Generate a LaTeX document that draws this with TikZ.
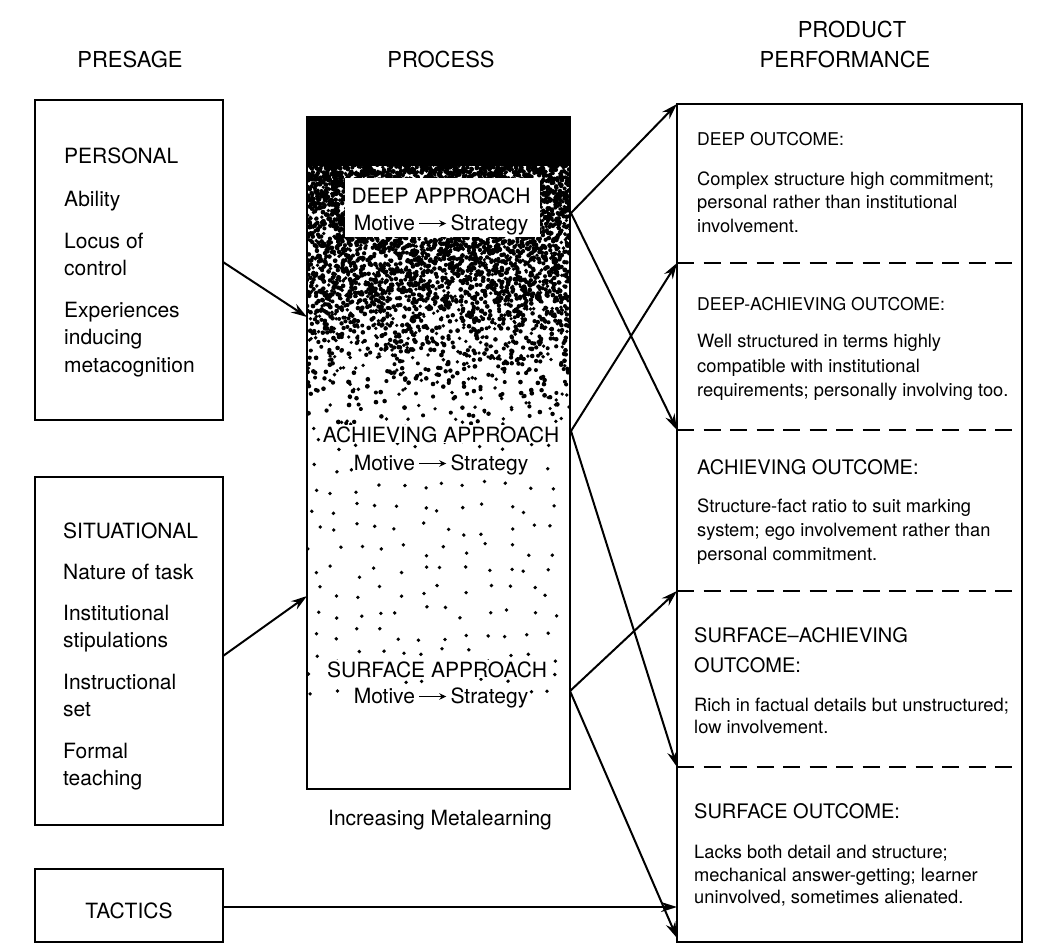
\documentclass[tikz,border=0pt]{standalone}
\usepackage{fontspec}
\setmainfont{TeX Gyre Heros}
\usetikzlibrary{arrows.meta}

% short bold arrow used in the approach labels
\newcommand{\motivearrow}{\,\tikz[baseline={(0pt,0pt)}]\draw[line width=1.6pt,-{Stealth[length=7pt,width=6.5pt]}] (0pt,6.5pt) -- (27pt,6.5pt);\,}

\begin{document}
\begin{tikzpicture}[x=1pt,y=-1pt,
  frame/.style={draw=black, line width=2.8pt, inner sep=0pt, outer sep=0pt, anchor=north west},
  conn/.style={line width=2pt, -{Stealth[length=16pt,width=10pt]}},
  divider/.style={line width=2.8pt, dash pattern=on 17pt off 9.5pt},
  head/.style={font=\fontsize{22}{26}\selectfont, anchor=base, inner sep=0pt},
  lt/.style={font=\fontsize{21}{25}\selectfont, anchor=base west, inner sep=0pt},
  ct/.style={font=\fontsize{21}{25}\selectfont, anchor=base, inner sep=0pt},
  ctw/.style={ct, fill=white, inner sep=1pt},
  rh/.style={font=\fontsize{17.6}{21}\selectfont, anchor=base west, inner sep=0pt},
  rH/.style={font=\fontsize{20}{24}\selectfont, anchor=base west, inner sep=0pt},
  rb/.style={font=\fontsize{18.3}{22}\selectfont, anchor=base west, inner sep=0pt},
]
\useasboundingbox (0,0) rectangle (1040,951);

% column headings
\node[head] (hpres) at (130,67) {PRESAGE};
\node[head] (hproc) at (441,67) {PROCESS};
\node[head] (hprod1) at (852,37) {PRODUCT};
\node[head] (hprod2) at (845,67) {PERFORMANCE};

% stippled process column: solid black top fading into scattered dots
\begin{scope}
  \clip (307,117) rectangle (570,789);
  \pgfmathsetseed{4711}
  \fill (307,117) rectangle (570,166);
  \foreach \yb/\n in {165/396,175/370,185/347,195/326,205/307,215/290,
                      225/274,235/259,245/245,255/232,265/214,275/197,
                      285/181,295/167,305/145,315/125,325/107,335/90,
                      345/75,355/60,365/49,375/39,385/32,395/24,
                      405/20,415/15} {
    \foreach \k in {1,...,\n} {
      \pgfmathsetmacro{\dx}{307+263*rnd}
      \pgfmathsetmacro{\dy}{\yb+10*rnd}
      \pgfmathsetmacro{\dr}{1.8+0.6*rnd}
      \fill (\dx,\dy) circle[radius=\dr pt];
    }
  }
  % evenly scattered dots of the lower half
  \foreach \gy in {0,...,13} {
    \foreach \gx in {0,...,11} {
      \pgfmathsetmacro{\dx}{314+21.5*\gx+13*(rnd-0.5)}
      \pgfmathsetmacro{\dy}{424+21*\gy+13*(rnd-0.5)}
      \fill (\dx,\dy) circle[radius=1.9pt];
    }
  }
  \fill[white] (345,178) rectangle (540,237);
\end{scope}

% boxes
\node[frame, minimum width=188pt, minimum height=320pt] (personal) at (35,100) {};
\node[frame, minimum width=188pt, minimum height=348pt] (situational) at (35,477) {};
\node[frame, minimum width=188pt, minimum height=73pt] (tactics) at (35,869) {};
\node[frame, minimum width=263pt, minimum height=672pt] (process) at (307,117) {};
\node[frame, minimum width=345pt, minimum height=838pt] (product) at (677,104) {};

% outcome dividers
\draw[divider] (677,263) -- (1022,263);
\draw[divider] (677,430) -- (1022,430);
\draw[divider] (677,591) -- (1022,591);
\draw[divider] (677,767) -- (1022,767);

% presage texts
\node[lt] (p1) at (64,163) {PERSONAL};
\node[lt] (p2) at (64,206) {Ability};
\node[lt] (p3) at (64,248) {Locus of};
\node[lt] (p4) at (64,275) {control};
\node[lt] (p5) at (64,317) {Experiences};
\node[lt] (p6) at (64,344) {inducing};
\node[lt] (p7) at (64,372) {metacognition};

\node[lt] (s1) at (63,538) {SITUATIONAL};
\node[lt] (s2) at (63,579) {Nature of task};
\node[lt] (s3) at (63,620) {Institutional};
\node[lt] (s4) at (63,647) {stipulations};
\node[lt] (s5) at (63,689) {Instructional};
\node[lt] (s6) at (63,716) {set};
\node[lt] (s7) at (63,758) {Formal};
\node[lt] (s8) at (63,785) {teaching};

\node[head, font=\fontsize{21}{25}\selectfont] (t1) at (129,918) {TACTICS};

% process texts
\node[ct] (d1) at (441,203) {DEEP APPROACH};
\node[ct] (d2) at (441,230) {Motive\motivearrow Strategy};
\node[ctw] (a1) at (441,442) {ACHIEVING APPROACH};
\node[ctw] (a2) at (441,470) {Motive\motivearrow Strategy};
\node[ctw] (f1) at (437,677) {SURFACE APPROACH};
\node[ctw] (f2) at (441,703) {Motive\motivearrow Strategy};
\node[ct] (meta) at (440,825) {Increasing Metalearning};

% product texts
\node[rh] (o1) at (697,145) {DEEP OUTCOME:};
\node[rb] (o1a) at (697,185) {Complex structure high commitment;};
\node[rb] (o1b) at (697,208) {personal rather than institutional};
\node[rb] (o1c) at (697,232) {involvement.};

\node[rh] (o2) at (697,310) {DEEP-ACHIEVING OUTCOME:};
\node[rb] (o2a) at (697,347) {Well structured in terms highly};
\node[rb] (o2b) at (697,372) {compatible with institutional};
\node[rb] (o2c) at (697,396) {requirements; personally involving too.};

\node[rH] (o3) at (697,474) {ACHIEVING OUTCOME:};
\node[rb] (o3a) at (697,512) {Structure-fact ratio to suit marking};
\node[rb] (o3b) at (697,536) {system; ego involvement rather than};
\node[rb] (o3c) at (697,560) {personal commitment.};

\node[rH] (o4) at (694,642) {SURFACE--ACHIEVING};
\node[rH] (o4x) at (694,672) {OUTCOME:};
\node[rb] (o4a) at (694,711) {Rich in factual details but unstructured;};
\node[rb] (o4b) at (694,733) {low involvement.};

\node[rH] (o5) at (694,818) {SURFACE OUTCOME:};
\node[rb] (o5a) at (694,858) {Lacks both detail and structure;};
\node[rb] (o5b) at (694,881) {mechanical answer-getting; learner};
\node[rb] (o5c) at (694,903) {uninvolved, sometimes alienated.};

% connector ends
\coordinate (perOut) at (223,262);
\coordinate (perIn) at (307,317);
\coordinate (sitOut) at (223,656);
\coordinate (sitIn) at (307,596);
\coordinate (tacOut) at (223,907);
\coordinate (tacIn) at (677,907);
\coordinate (deepOut) at (571,213);
\coordinate (achOut) at (571,431);
\coordinate (surOut) at (570,691);
\coordinate (inDeep) at (677,104);
\coordinate (inDeepAch) at (677,263);
\coordinate (inAch) at (677,430);
\coordinate (inSurAch) at (677,591);
\coordinate (inSur) at (677,767);
\coordinate (inBottom) at (677,938);

% connectors
\draw[conn] (perOut) -- (perIn);
\draw[conn] (sitOut) -- (sitIn);
\draw[conn] (tacOut) -- (tacIn);
\draw[conn] (deepOut) -- (inDeep);
\draw[conn] (deepOut) -- (inAch);
\draw[conn] (achOut) -- (inDeepAch);
\draw[conn] (achOut) -- (inSur);
\draw[conn] (surOut) -- (inSurAch);
\draw[conn] (surOut) -- (inBottom);
\end{tikzpicture}
\end{document}
